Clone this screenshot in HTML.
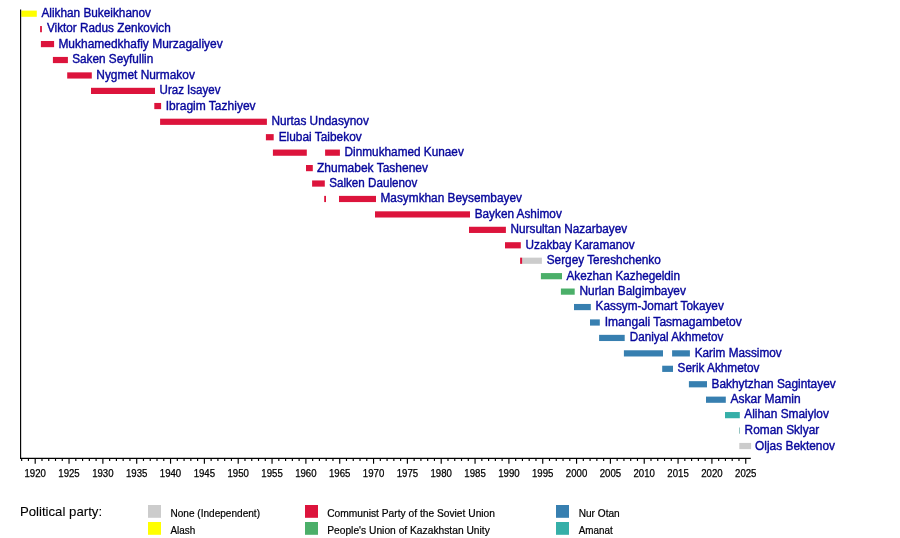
<!DOCTYPE html>
<html><head><meta charset="utf-8"><title>Timeline</title>
<style>
html,body{margin:0;padding:0;background:#fff;}
body{width:900px;height:538px;overflow:hidden;font-family:"Liberation Sans",sans-serif;}
svg{display:block;font-family:"Liberation Sans",sans-serif;filter:blur(0.3px);}
.n{font-size:12.5px;fill:#07079c;stroke:#07079c;stroke-width:0.4px;}
.ax{font-size:10.6px;fill:#000;stroke:#000;stroke-width:0.25px;}
.lg{font-size:10.6px;fill:#000;stroke:#000;stroke-width:0.2px;}
.lt{font-size:13.2px;fill:#000;stroke:#000;stroke-width:0.1px;}
</style></head><body>
<svg width="900" height="538" viewBox="0 0 900 538">
<rect x="0" y="0" width="900" height="538" fill="#ffffff"/>

<g id="bars">
<rect x="21.3" y="10.60" width="15.5" height="6.2" fill="#FFFF00"/>
<rect x="40.1" y="26.04" width="1.8" height="6.2" fill="#DC143C"/>
<rect x="40.9" y="40.98" width="13.2" height="6.2" fill="#DC143C"/>
<rect x="52.9" y="56.92" width="15.0" height="6.2" fill="#DC143C"/>
<rect x="67.2" y="72.36" width="24.6" height="6.2" fill="#DC143C"/>
<rect x="91.0" y="87.80" width="64.0" height="6.2" fill="#DC143C"/>
<rect x="154.3" y="102.94" width="6.8" height="6.2" fill="#DC143C"/>
<rect x="160.1" y="118.68" width="106.8" height="6.2" fill="#DC143C"/>
<rect x="265.9" y="134.12" width="7.8" height="6.2" fill="#DC143C"/>
<rect x="272.9" y="149.56" width="33.9" height="6.2" fill="#DC143C"/>
<rect x="325.1" y="149.56" width="14.8" height="6.2" fill="#DC143C"/>
<rect x="306.0" y="165.00" width="6.8" height="6.2" fill="#DC143C"/>
<rect x="312.1" y="180.44" width="12.7" height="6.2" fill="#DC143C"/>
<rect x="324.2" y="195.88" width="1.8" height="6.2" fill="#DC143C"/>
<rect x="339.0" y="195.88" width="37.0" height="6.2" fill="#DC143C"/>
<rect x="375.0" y="211.32" width="95.0" height="6.2" fill="#DC143C"/>
<rect x="469.0" y="226.76" width="36.9" height="6.2" fill="#DC143C"/>
<rect x="505.0" y="242.20" width="15.8" height="6.2" fill="#DC143C"/>
<rect x="522.0" y="257.64" width="19.9" height="6.2" fill="#CCCCCC"/>
<rect x="520.1" y="257.64" width="2.0" height="6.2" fill="#DC143C"/>
<rect x="540.9" y="273.08" width="21.1" height="6.2" fill="#4BAF69"/>
<rect x="560.9" y="288.52" width="13.8" height="6.2" fill="#4BAF69"/>
<rect x="574.0" y="303.96" width="16.8" height="6.2" fill="#377FB0"/>
<rect x="590.0" y="319.40" width="9.8" height="6.2" fill="#377FB0"/>
<rect x="599.1" y="334.84" width="25.6" height="6.2" fill="#377FB0"/>
<rect x="623.9" y="350.28" width="39.1" height="6.2" fill="#377FB0"/>
<rect x="672.1" y="350.28" width="17.8" height="6.2" fill="#377FB0"/>
<rect x="662.2" y="365.72" width="10.8" height="6.2" fill="#377FB0"/>
<rect x="688.9" y="381.16" width="18.1" height="6.2" fill="#377FB0"/>
<rect x="706.0" y="396.60" width="19.8" height="6.2" fill="#377FB0"/>
<rect x="725.0" y="412.04" width="14.8" height="6.2" fill="#35AFA8"/>
<rect x="739.1" y="427.48" width="0.6" height="6.2" fill="#4a9c98"/>
<rect x="739.3" y="442.92" width="11.8" height="6.2" fill="#CCCCCC"/>
</g>
<g id="names">
<text class="n" x="41.4" y="17.10" textLength="109.6" lengthAdjust="spacingAndGlyphs">Alikhan Bukeikhanov</text>
<text class="n" x="46.9" y="31.94" textLength="123.9" lengthAdjust="spacingAndGlyphs">Viktor Radus Zenkovich</text>
<text class="n" x="58.4" y="47.58" textLength="164.3" lengthAdjust="spacingAndGlyphs">Mukhamedkhafiy Murzagaliyev</text>
<text class="n" x="72.2" y="63.42" textLength="81.1" lengthAdjust="spacingAndGlyphs">Saken Seyfullin</text>
<text class="n" x="96.3" y="78.86" textLength="98.6" lengthAdjust="spacingAndGlyphs">Nygmet Nurmakov</text>
<text class="n" x="159.6" y="94.30" textLength="60.8" lengthAdjust="spacingAndGlyphs">Uraz Isayev</text>
<text class="n" x="165.7" y="109.74" textLength="89.9" lengthAdjust="spacingAndGlyphs">Ibragim Tazhiyev</text>
<text class="n" x="271.5" y="125.18" textLength="97.3" lengthAdjust="spacingAndGlyphs">Nurtas Undasynov</text>
<text class="n" x="278.7" y="140.62" textLength="83.0" lengthAdjust="spacingAndGlyphs">Elubai Taibekov</text>
<text class="n" x="344.6" y="156.06" textLength="119.2" lengthAdjust="spacingAndGlyphs">Dinmukhamed Kunaev</text>
<text class="n" x="317.0" y="171.50" textLength="111.0" lengthAdjust="spacingAndGlyphs">Zhumabek Tashenev</text>
<text class="n" x="329.2" y="186.94" textLength="88.1" lengthAdjust="spacingAndGlyphs">Salken Daulenov</text>
<text class="n" x="380.5" y="202.38" textLength="141.4" lengthAdjust="spacingAndGlyphs">Masymkhan Beysembayev</text>
<text class="n" x="474.7" y="217.82" textLength="87.1" lengthAdjust="spacingAndGlyphs">Bayken Ashimov</text>
<text class="n" x="510.5" y="233.26" textLength="116.6" lengthAdjust="spacingAndGlyphs">Nursultan Nazarbayev</text>
<text class="n" x="525.5" y="248.70" textLength="109.2" lengthAdjust="spacingAndGlyphs">Uzakbay Karamanov</text>
<text class="n" x="546.7" y="264.14" textLength="114.1" lengthAdjust="spacingAndGlyphs">Sergey Tereshchenko</text>
<text class="n" x="566.5" y="279.58" textLength="113.5" lengthAdjust="spacingAndGlyphs">Akezhan Kazhegeldin</text>
<text class="n" x="579.5" y="295.02" textLength="106.4" lengthAdjust="spacingAndGlyphs">Nurlan Balgimbayev</text>
<text class="n" x="595.6" y="310.46" textLength="128.2" lengthAdjust="spacingAndGlyphs">Kassym-Jomart Tokayev</text>
<text class="n" x="604.7" y="325.90" textLength="137.1" lengthAdjust="spacingAndGlyphs">Imangali Tasmagambetov</text>
<text class="n" x="629.7" y="341.34" textLength="93.6" lengthAdjust="spacingAndGlyphs">Daniyal Akhmetov</text>
<text class="n" x="694.7" y="356.78" textLength="87.0" lengthAdjust="spacingAndGlyphs">Karim Massimov</text>
<text class="n" x="677.6" y="372.22" textLength="81.8" lengthAdjust="spacingAndGlyphs">Serik Akhmetov</text>
<text class="n" x="711.5" y="387.66" textLength="124.2" lengthAdjust="spacingAndGlyphs">Bakhytzhan Sagintayev</text>
<text class="n" x="730.5" y="403.10" textLength="70.1" lengthAdjust="spacingAndGlyphs">Askar Mamin</text>
<text class="n" x="744.3" y="418.24" textLength="84.6" lengthAdjust="spacingAndGlyphs">Alihan Smaiylov</text>
<text class="n" x="744.6" y="433.98" textLength="74.6" lengthAdjust="spacingAndGlyphs">Roman Sklyar</text>
<text class="n" x="755.1" y="450.12" textLength="79.9" lengthAdjust="spacingAndGlyphs">Oljas Bektenov</text>
</g>
<g id="axis" stroke="#000" stroke-width="1.15" fill="none">
<line x1="20.6" y1="9.5" x2="20.6" y2="458.90000000000003"/>
<line x1="20.05" y1="458.35" x2="750.8" y2="458.35"/>
<line x1="21.67" y1="458.35" x2="21.67" y2="460.95000000000005"/>
<line x1="28.43" y1="458.35" x2="28.43" y2="460.95000000000005"/>
<line x1="35.20" y1="458.35" x2="35.20" y2="463.75"/>
<line x1="41.97" y1="458.35" x2="41.97" y2="460.95000000000005"/>
<line x1="48.73" y1="458.35" x2="48.73" y2="460.95000000000005"/>
<line x1="55.50" y1="458.35" x2="55.50" y2="460.95000000000005"/>
<line x1="62.27" y1="458.35" x2="62.27" y2="460.95000000000005"/>
<line x1="69.03" y1="458.35" x2="69.03" y2="463.75"/>
<line x1="75.80" y1="458.35" x2="75.80" y2="460.95000000000005"/>
<line x1="82.57" y1="458.35" x2="82.57" y2="460.95000000000005"/>
<line x1="89.34" y1="458.35" x2="89.34" y2="460.95000000000005"/>
<line x1="96.10" y1="458.35" x2="96.10" y2="460.95000000000005"/>
<line x1="102.87" y1="458.35" x2="102.87" y2="463.75"/>
<line x1="109.64" y1="458.35" x2="109.64" y2="460.95000000000005"/>
<line x1="116.40" y1="458.35" x2="116.40" y2="460.95000000000005"/>
<line x1="123.17" y1="458.35" x2="123.17" y2="460.95000000000005"/>
<line x1="129.94" y1="458.35" x2="129.94" y2="460.95000000000005"/>
<line x1="136.71" y1="458.35" x2="136.71" y2="463.75"/>
<line x1="143.47" y1="458.35" x2="143.47" y2="460.95000000000005"/>
<line x1="150.24" y1="458.35" x2="150.24" y2="460.95000000000005"/>
<line x1="157.01" y1="458.35" x2="157.01" y2="460.95000000000005"/>
<line x1="163.77" y1="458.35" x2="163.77" y2="460.95000000000005"/>
<line x1="170.54" y1="458.35" x2="170.54" y2="463.75"/>
<line x1="177.31" y1="458.35" x2="177.31" y2="460.95000000000005"/>
<line x1="184.07" y1="458.35" x2="184.07" y2="460.95000000000005"/>
<line x1="190.84" y1="458.35" x2="190.84" y2="460.95000000000005"/>
<line x1="197.61" y1="458.35" x2="197.61" y2="460.95000000000005"/>
<line x1="204.38" y1="458.35" x2="204.38" y2="463.75"/>
<line x1="211.14" y1="458.35" x2="211.14" y2="460.95000000000005"/>
<line x1="217.91" y1="458.35" x2="217.91" y2="460.95000000000005"/>
<line x1="224.68" y1="458.35" x2="224.68" y2="460.95000000000005"/>
<line x1="231.44" y1="458.35" x2="231.44" y2="460.95000000000005"/>
<line x1="238.21" y1="458.35" x2="238.21" y2="463.75"/>
<line x1="244.98" y1="458.35" x2="244.98" y2="460.95000000000005"/>
<line x1="251.74" y1="458.35" x2="251.74" y2="460.95000000000005"/>
<line x1="258.51" y1="458.35" x2="258.51" y2="460.95000000000005"/>
<line x1="265.28" y1="458.35" x2="265.28" y2="460.95000000000005"/>
<line x1="272.05" y1="458.35" x2="272.05" y2="463.75"/>
<line x1="278.81" y1="458.35" x2="278.81" y2="460.95000000000005"/>
<line x1="285.58" y1="458.35" x2="285.58" y2="460.95000000000005"/>
<line x1="292.35" y1="458.35" x2="292.35" y2="460.95000000000005"/>
<line x1="299.11" y1="458.35" x2="299.11" y2="460.95000000000005"/>
<line x1="305.88" y1="458.35" x2="305.88" y2="463.75"/>
<line x1="312.65" y1="458.35" x2="312.65" y2="460.95000000000005"/>
<line x1="319.41" y1="458.35" x2="319.41" y2="460.95000000000005"/>
<line x1="326.18" y1="458.35" x2="326.18" y2="460.95000000000005"/>
<line x1="332.95" y1="458.35" x2="332.95" y2="460.95000000000005"/>
<line x1="339.72" y1="458.35" x2="339.72" y2="463.75"/>
<line x1="346.48" y1="458.35" x2="346.48" y2="460.95000000000005"/>
<line x1="353.25" y1="458.35" x2="353.25" y2="460.95000000000005"/>
<line x1="360.02" y1="458.35" x2="360.02" y2="460.95000000000005"/>
<line x1="366.78" y1="458.35" x2="366.78" y2="460.95000000000005"/>
<line x1="373.55" y1="458.35" x2="373.55" y2="463.75"/>
<line x1="380.32" y1="458.35" x2="380.32" y2="460.95000000000005"/>
<line x1="387.08" y1="458.35" x2="387.08" y2="460.95000000000005"/>
<line x1="393.85" y1="458.35" x2="393.85" y2="460.95000000000005"/>
<line x1="400.62" y1="458.35" x2="400.62" y2="460.95000000000005"/>
<line x1="407.38" y1="458.35" x2="407.38" y2="463.75"/>
<line x1="414.15" y1="458.35" x2="414.15" y2="460.95000000000005"/>
<line x1="420.92" y1="458.35" x2="420.92" y2="460.95000000000005"/>
<line x1="427.69" y1="458.35" x2="427.69" y2="460.95000000000005"/>
<line x1="434.45" y1="458.35" x2="434.45" y2="460.95000000000005"/>
<line x1="441.22" y1="458.35" x2="441.22" y2="463.75"/>
<line x1="447.99" y1="458.35" x2="447.99" y2="460.95000000000005"/>
<line x1="454.75" y1="458.35" x2="454.75" y2="460.95000000000005"/>
<line x1="461.52" y1="458.35" x2="461.52" y2="460.95000000000005"/>
<line x1="468.29" y1="458.35" x2="468.29" y2="460.95000000000005"/>
<line x1="475.06" y1="458.35" x2="475.06" y2="463.75"/>
<line x1="481.82" y1="458.35" x2="481.82" y2="460.95000000000005"/>
<line x1="488.59" y1="458.35" x2="488.59" y2="460.95000000000005"/>
<line x1="495.36" y1="458.35" x2="495.36" y2="460.95000000000005"/>
<line x1="502.12" y1="458.35" x2="502.12" y2="460.95000000000005"/>
<line x1="508.89" y1="458.35" x2="508.89" y2="463.75"/>
<line x1="515.66" y1="458.35" x2="515.66" y2="460.95000000000005"/>
<line x1="522.42" y1="458.35" x2="522.42" y2="460.95000000000005"/>
<line x1="529.19" y1="458.35" x2="529.19" y2="460.95000000000005"/>
<line x1="535.96" y1="458.35" x2="535.96" y2="460.95000000000005"/>
<line x1="542.73" y1="458.35" x2="542.73" y2="463.75"/>
<line x1="549.49" y1="458.35" x2="549.49" y2="460.95000000000005"/>
<line x1="556.26" y1="458.35" x2="556.26" y2="460.95000000000005"/>
<line x1="563.03" y1="458.35" x2="563.03" y2="460.95000000000005"/>
<line x1="569.79" y1="458.35" x2="569.79" y2="460.95000000000005"/>
<line x1="576.56" y1="458.35" x2="576.56" y2="463.75"/>
<line x1="583.33" y1="458.35" x2="583.33" y2="460.95000000000005"/>
<line x1="590.09" y1="458.35" x2="590.09" y2="460.95000000000005"/>
<line x1="596.86" y1="458.35" x2="596.86" y2="460.95000000000005"/>
<line x1="603.63" y1="458.35" x2="603.63" y2="460.95000000000005"/>
<line x1="610.40" y1="458.35" x2="610.40" y2="463.75"/>
<line x1="617.16" y1="458.35" x2="617.16" y2="460.95000000000005"/>
<line x1="623.93" y1="458.35" x2="623.93" y2="460.95000000000005"/>
<line x1="630.70" y1="458.35" x2="630.70" y2="460.95000000000005"/>
<line x1="637.46" y1="458.35" x2="637.46" y2="460.95000000000005"/>
<line x1="644.23" y1="458.35" x2="644.23" y2="463.75"/>
<line x1="651.00" y1="458.35" x2="651.00" y2="460.95000000000005"/>
<line x1="657.76" y1="458.35" x2="657.76" y2="460.95000000000005"/>
<line x1="664.53" y1="458.35" x2="664.53" y2="460.95000000000005"/>
<line x1="671.30" y1="458.35" x2="671.30" y2="460.95000000000005"/>
<line x1="678.07" y1="458.35" x2="678.07" y2="463.75"/>
<line x1="684.83" y1="458.35" x2="684.83" y2="460.95000000000005"/>
<line x1="691.60" y1="458.35" x2="691.60" y2="460.95000000000005"/>
<line x1="698.37" y1="458.35" x2="698.37" y2="460.95000000000005"/>
<line x1="705.13" y1="458.35" x2="705.13" y2="460.95000000000005"/>
<line x1="711.90" y1="458.35" x2="711.90" y2="463.75"/>
<line x1="718.67" y1="458.35" x2="718.67" y2="460.95000000000005"/>
<line x1="725.43" y1="458.35" x2="725.43" y2="460.95000000000005"/>
<line x1="732.20" y1="458.35" x2="732.20" y2="460.95000000000005"/>
<line x1="738.97" y1="458.35" x2="738.97" y2="460.95000000000005"/>
<line x1="745.74" y1="458.35" x2="745.74" y2="463.75"/>
</g>
<g id="axlabels">
<text class="ax" x="24.50" y="476.8" textLength="21.4" lengthAdjust="spacingAndGlyphs">1920</text>
<text class="ax" x="58.33" y="476.8" textLength="21.4" lengthAdjust="spacingAndGlyphs">1925</text>
<text class="ax" x="92.17" y="476.8" textLength="21.4" lengthAdjust="spacingAndGlyphs">1930</text>
<text class="ax" x="126.01" y="476.8" textLength="21.4" lengthAdjust="spacingAndGlyphs">1935</text>
<text class="ax" x="159.84" y="476.8" textLength="21.4" lengthAdjust="spacingAndGlyphs">1940</text>
<text class="ax" x="193.68" y="476.8" textLength="21.4" lengthAdjust="spacingAndGlyphs">1945</text>
<text class="ax" x="227.51" y="476.8" textLength="21.4" lengthAdjust="spacingAndGlyphs">1950</text>
<text class="ax" x="261.35" y="476.8" textLength="21.4" lengthAdjust="spacingAndGlyphs">1955</text>
<text class="ax" x="295.18" y="476.8" textLength="21.4" lengthAdjust="spacingAndGlyphs">1960</text>
<text class="ax" x="329.02" y="476.8" textLength="21.4" lengthAdjust="spacingAndGlyphs">1965</text>
<text class="ax" x="362.85" y="476.8" textLength="21.4" lengthAdjust="spacingAndGlyphs">1970</text>
<text class="ax" x="396.69" y="476.8" textLength="21.4" lengthAdjust="spacingAndGlyphs">1975</text>
<text class="ax" x="430.52" y="476.8" textLength="21.4" lengthAdjust="spacingAndGlyphs">1980</text>
<text class="ax" x="464.36" y="476.8" textLength="21.4" lengthAdjust="spacingAndGlyphs">1985</text>
<text class="ax" x="498.19" y="476.8" textLength="21.4" lengthAdjust="spacingAndGlyphs">1990</text>
<text class="ax" x="532.02" y="476.8" textLength="21.4" lengthAdjust="spacingAndGlyphs">1995</text>
<text class="ax" x="565.86" y="476.8" textLength="21.4" lengthAdjust="spacingAndGlyphs">2000</text>
<text class="ax" x="599.70" y="476.8" textLength="21.4" lengthAdjust="spacingAndGlyphs">2005</text>
<text class="ax" x="633.53" y="476.8" textLength="21.4" lengthAdjust="spacingAndGlyphs">2010</text>
<text class="ax" x="667.37" y="476.8" textLength="21.4" lengthAdjust="spacingAndGlyphs">2015</text>
<text class="ax" x="701.20" y="476.8" textLength="21.4" lengthAdjust="spacingAndGlyphs">2020</text>
<text class="ax" x="735.04" y="476.8" textLength="21.4" lengthAdjust="spacingAndGlyphs">2025</text>
</g>
<g id="legend">
<text class="lt" x="19.9" y="515.7" textLength="82.2" lengthAdjust="spacing">Political party:</text>
<rect x="148" y="505" width="13" height="12.8" fill="#CCCCCC"/>
<text class="lg" x="170.5" y="517.1" textLength="89.5" lengthAdjust="spacingAndGlyphs">None (Independent)</text>
<rect x="148" y="522" width="13" height="12.8" fill="#FFFF00"/>
<text class="lg" x="170.5" y="533.5" textLength="24.8" lengthAdjust="spacingAndGlyphs">Alash</text>
<rect x="305" y="505" width="13" height="12.8" fill="#DC143C"/>
<text class="lg" x="327.2" y="517.1" textLength="167.8" lengthAdjust="spacingAndGlyphs">Communist Party of the Soviet Union</text>
<rect x="305" y="522" width="13" height="12.8" fill="#4BAF69"/>
<text class="lg" x="327.2" y="533.5" textLength="162.6" lengthAdjust="spacingAndGlyphs">People's Union of Kazakhstan Unity</text>
<rect x="556" y="505" width="13" height="12.8" fill="#377FB0"/>
<text class="lg" x="578.7" y="517.1" textLength="41.0" lengthAdjust="spacingAndGlyphs">Nur Otan</text>
<rect x="556" y="522" width="13" height="12.8" fill="#35AFA8"/>
<text class="lg" x="578.7" y="533.5" textLength="34.0" lengthAdjust="spacingAndGlyphs">Amanat</text>
</g>
</svg></body></html>
